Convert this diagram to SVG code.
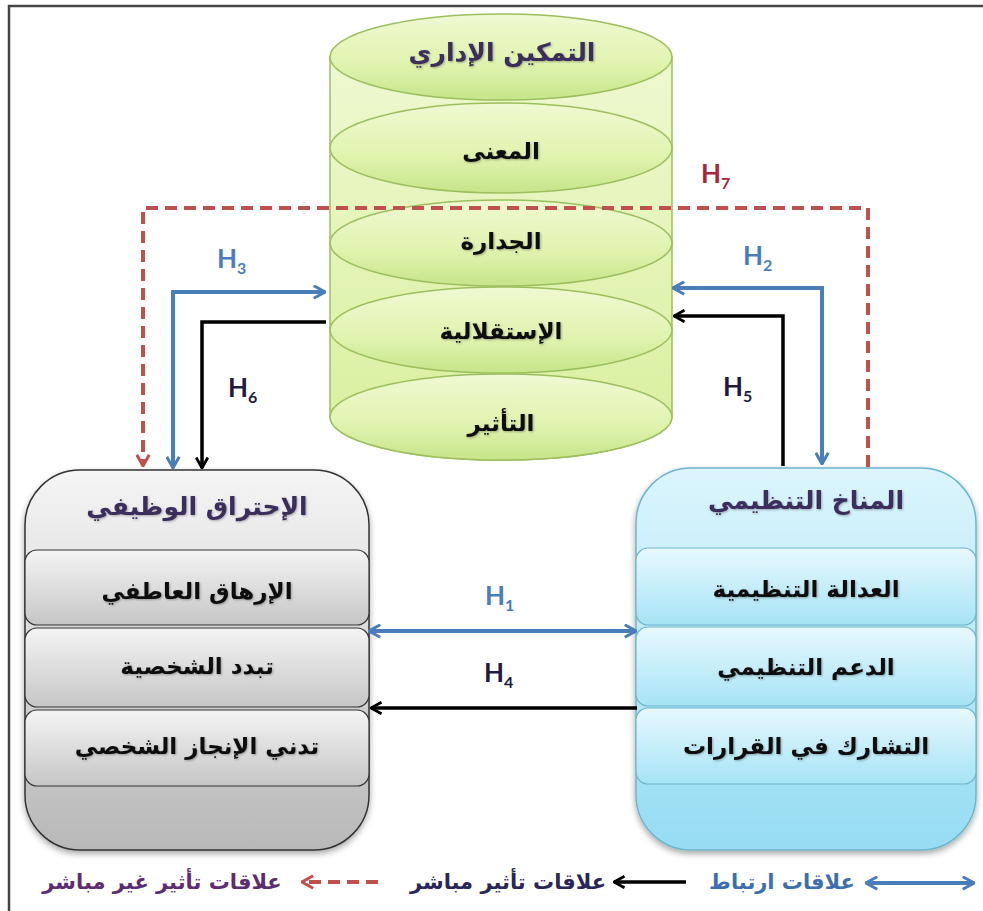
<svg xmlns="http://www.w3.org/2000/svg" width="983" height="911" viewBox="0 0 983 911">
<defs>
<style>
.ar{font-family:"DejaVu Sans","Noto Sans CJK SC",sans-serif;font-weight:bold;text-anchor:middle;}
.ttl{font-size:25px;fill:#3b2d5c;}
.row{font-size:23px;fill:#111;}
.hl{font-family:Lato,"Open Sans",sans-serif;font-weight:bold;font-size:26px;}
.sub{font-size:16px;}
.blue{stroke:#4a7ebb;stroke-width:4;fill:none;}
.blk{stroke:#000;stroke-width:3.5;fill:none;}
.red{stroke:#c0504d;stroke-width:4;fill:none;stroke-dasharray:12 7;}
.leg{font-size:21px;}
</style>
<linearGradient id="gCyl" x1="0" y1="0" x2="0" y2="1"><stop offset="0" stop-color="#eef9d0"/><stop offset="1" stop-color="#d8ef9c"/></linearGradient>
<linearGradient id="gEl" x1="0" y1="0" x2="0" y2="1"><stop offset="0" stop-color="#eff9d2"/><stop offset="0.6" stop-color="#e0f3ae"/><stop offset="1" stop-color="#c6e58a"/></linearGradient>
<linearGradient id="gGray" x1="0" y1="0" x2="0" y2="1"><stop offset="0" stop-color="#f5f5f5"/><stop offset="1" stop-color="#b8b8b8"/></linearGradient>
<linearGradient id="gGrayRow" x1="0" y1="0" x2="0" y2="1"><stop offset="0" stop-color="#f4f4f4"/><stop offset="1" stop-color="#c6c6c6"/></linearGradient>
<linearGradient id="gBlue" x1="0" y1="0" x2="0" y2="1"><stop offset="0" stop-color="#dcf5fd"/><stop offset="1" stop-color="#96dcf3"/></linearGradient>
<linearGradient id="gBlueRow" x1="0" y1="0" x2="0" y2="1"><stop offset="0" stop-color="#e8f9fe"/><stop offset="1" stop-color="#a6e3f5"/></linearGradient>
<filter id="sh" x="-10%" y="-10%" width="120%" height="125%"><feDropShadow dx="0" dy="3" stdDeviation="3" flood-color="#000" flood-opacity="0.35"/></filter>
<filter id="tsh" x="-5%" y="-20%" width="110%" height="140%"><feDropShadow dx="1" dy="1" stdDeviation="1" flood-color="#000" flood-opacity="0.3"/></filter>
<marker id="mBlue" viewBox="0 0 12 12" refX="11" refY="6" markerWidth="15" markerHeight="15" markerUnits="userSpaceOnUse" orient="auto-start-reverse"><path d="M2,1 L11,6 L2,11" fill="none" stroke="#4a7ebb" stroke-width="2.4" stroke-linejoin="miter"/></marker>
<marker id="mBlk" viewBox="0 0 12 12" refX="11" refY="6" markerWidth="14" markerHeight="14" markerUnits="userSpaceOnUse" orient="auto-start-reverse"><path d="M2,1 L11,6 L2,11" fill="none" stroke="#000" stroke-width="2.4"/></marker>
<marker id="mRed" viewBox="0 0 12 12" refX="11" refY="6" markerWidth="15" markerHeight="15" markerUnits="userSpaceOnUse" orient="auto-start-reverse"><path d="M2,1 L11,6 L2,11" fill="none" stroke="#c0504d" stroke-width="2.4"/></marker>
</defs>
<rect x="0" y="0" width="983" height="911" fill="#fff"/>
<path d="M9,911 L9,6 L983,6" fill="none" stroke="#444" stroke-width="2.5"/>

<g id="cylinder">
<path d="M330,57 L330,417 A171,43 0 0 0 672,417 L672,57 Z" fill="url(#gCyl)" stroke="#9cbf5e" stroke-width="1.5"/>
<ellipse cx="501" cy="57" rx="171" ry="43" fill="url(#gEl)" stroke="#9cbf5e" stroke-width="1.5"/>
<ellipse cx="501" cy="148" rx="171" ry="45" fill="url(#gEl)" stroke="#9cbf5e" stroke-width="1.5"/>
<ellipse cx="501" cy="243" rx="171" ry="43" fill="url(#gEl)" stroke="#9cbf5e" stroke-width="1.5"/>
<ellipse cx="501" cy="330" rx="171" ry="43" fill="url(#gEl)" stroke="#9cbf5e" stroke-width="1.5"/>
<ellipse cx="501" cy="417" rx="171" ry="43" fill="url(#gEl)" stroke="#9cbf5e" stroke-width="1.5"/>
<text class="ar ttl" x="502" y="61" filter="url(#tsh)">التمكين الإداري</text>
<text class="ar row" x="501" y="159" filter="url(#tsh)">المعنى</text>
<text class="ar row" x="501" y="249" filter="url(#tsh)">الجدارة</text>
<text class="ar row" x="501" y="339" filter="url(#tsh)">الإستقلالية</text>
<text class="ar row" x="501" y="431" filter="url(#tsh)">التأثير</text>
</g>

<g id="burnout">
<rect x="25" y="470" width="344" height="380" rx="55" fill="url(#gGray)" stroke="#333" stroke-width="1.5" filter="url(#sh)"/>
<rect x="25" y="550" width="344" height="75" rx="12" fill="url(#gGrayRow)" stroke="#333" stroke-width="1.2"/>
<rect x="25" y="628" width="344" height="79" rx="12" fill="url(#gGrayRow)" stroke="#333" stroke-width="1.2"/>
<rect x="25" y="710" width="344" height="76" rx="12" fill="url(#gGrayRow)" stroke="#333" stroke-width="1.2"/>
<text class="ar ttl" x="197" y="515" filter="url(#tsh)">الإحتراق الوظيفي</text>
<text class="ar row" x="197" y="599" filter="url(#tsh)">الإرهاق العاطفي</text>
<text class="ar row" x="197" y="674" filter="url(#tsh)">تبدد الشخصية</text>
<text class="ar row" x="197" y="754" filter="url(#tsh)">تدني الإنجاز الشخصي</text>
</g>

<g id="climate">
<rect x="636" y="468" width="340" height="382" rx="55" fill="url(#gBlue)" stroke="#6cb6cc" stroke-width="1.5" filter="url(#sh)"/>
<rect x="636" y="548" width="340" height="77" rx="12" fill="url(#gBlueRow)" stroke="#6cb6cc" stroke-width="1.2"/>
<rect x="636" y="627" width="340" height="79" rx="12" fill="url(#gBlueRow)" stroke="#6cb6cc" stroke-width="1.2"/>
<rect x="636" y="708" width="340" height="76" rx="12" fill="url(#gBlueRow)" stroke="#6cb6cc" stroke-width="1.2"/>
<text class="ar ttl" x="806" y="509" filter="url(#tsh)">المناخ التنظيمي</text>
<text class="ar row" x="806" y="597" filter="url(#tsh)">العدالة التنظيمية</text>
<text class="ar row" x="806" y="675" filter="url(#tsh)">الدعم التنظيمي</text>
<text class="ar row" x="806" y="754" filter="url(#tsh)">التشارك في القرارات</text>
</g>

<g id="connectors">
<path class="red" d="M868,467 L868,208 L143,208 L143,466" marker-end="url(#mRed)"/>
<path class="blue" d="M173,468 L173,292 L325,292" marker-start="url(#mBlue)" marker-end="url(#mBlue)"/>
<path class="blk" d="M326,322 L202,322 L202,468" marker-end="url(#mBlk)"/>
<path class="blue" d="M673,288 L822,288 L822,464" marker-start="url(#mBlue)" marker-end="url(#mBlue)"/>
<path class="blk" d="M783,466 L783,316 L674,316" marker-end="url(#mBlk)"/>
<path class="blue" d="M369,631 L636,631" marker-start="url(#mBlue)" marker-end="url(#mBlue)"/>
<path class="blk" d="M637,708 L371,708" marker-end="url(#mBlk)"/>
</g>

<g id="labels">
<text class="hl" x="701" y="183" fill="#a8263a">H<tspan class="sub" dy="6">7</tspan></text>
<text class="hl" x="217" y="268" fill="#4a7ebb">H<tspan class="sub" dy="6">3</tspan></text>
<text class="hl" x="743" y="265" fill="#4a7ebb">H<tspan class="sub" dy="6">2</tspan></text>
<text class="hl" x="228" y="397" fill="#1f1a3f">H<tspan class="sub" dy="6">6</tspan></text>
<text class="hl" x="723" y="396" fill="#1f1a3f">H<tspan class="sub" dy="6">5</tspan></text>
<text class="hl" x="485" y="605" fill="#4a7ebb">H<tspan class="sub" dy="6">1</tspan></text>
<text class="hl" x="484" y="682" fill="#1f1a3f">H<tspan class="sub" dy="6">4</tspan></text>
</g>

<g id="legend">
<path class="blue" d="M866,883 L974,883" marker-start="url(#mBlue)" marker-end="url(#mBlue)"/>
<text class="ar leg" x="782" y="889" fill="#3d6fb0">علاقات ارتباط</text>
<path class="blk" d="M686,882 L614,882" marker-end="url(#mBlk)"/>
<path class="red" d="M378,882 L302,882" marker-end="url(#mRed)" stroke-dasharray="10 6"/>
<text class="ar leg" x="508" y="889" fill="#2a2758">علاقات تأثير مباشر</text>
<text class="ar leg" x="162" y="889" fill="#5d2d72" font-size="23">علاقات تأثير غير مباشر</text>
</g>
</svg>
